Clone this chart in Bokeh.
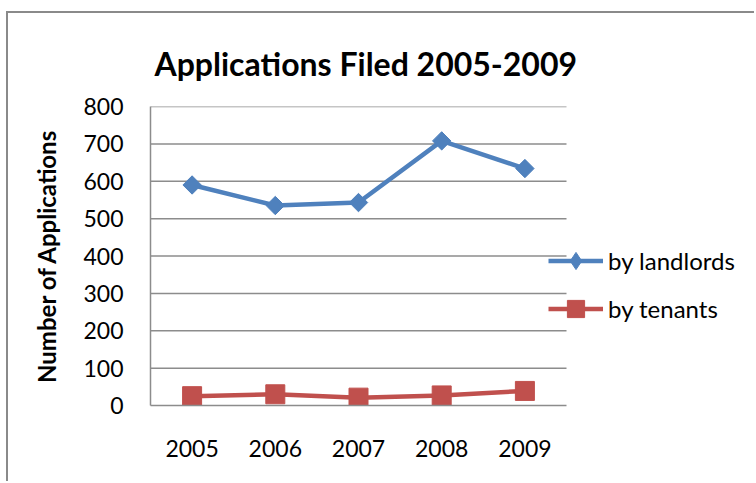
from bokeh.plotting import figure
from bokeh.models import (ColumnDataSource, Legend, LegendItem, FixedTicker, Title)
from bokeh.embed import file_html
from bokeh.resources import INLINE
import math

years = ["2005", "2006", "2007", "2008", "2009"]
landlords = [590, 535, 543, 708, 634]
tenants = [25, 30, 21, 27, 39]
y_ticks = [0, 100, 200, 300, 400, 500, 600, 700, 800]

FONT = "Lato"
BLUE = "#4F81BD"
RED = "#C0504D"
GRID = "#8c8c8c"

xs = list(range(len(years)))
src = ColumnDataSource(dict(x=xs, landlords=landlords, tenants=tenants))

# frame spans from the y axis to the right edge so the legend is not clipped
cat_px = 416 / len(years)
frame_px = 598
x_end = -0.5 + frame_px / cat_px

p = figure(width=748, height=470, x_range=(-0.5, x_end), y_range=(0, 800),
           output_backend="svg", toolbar_location=None,
           min_border_left=142, min_border_right=8,
           min_border_top=93, min_border_bottom=78)
p.margin = (11, 0, 0, 6)
p.styles = {"border-left": "2px solid #8a8a8a", "border-top": "2px solid #8a8a8a"}

p.title.text = "Applications Filed 2005-2009"
p.title.text_font = FONT
p.title.text_font_size = "32px"
p.title.text_font_style = "bold"
p.title.text_color = "black"
p.title.align = "left"
p.title.offset = 4
spacer = Title(text=" ", text_font_size="7px")
p.add_layout(spacer, "above")

p.outline_line_color = None
p.background_fill_color = "white"
p.border_fill_color = "white"
p.xgrid.grid_line_color = None
p.ygrid.grid_line_color = None

# horizontal gridlines limited to the category area
grid_src = ColumnDataSource(dict(y=y_ticks[1:]))
p.segment(x0=-0.5, x1=len(years) - 0.5, y0="y", y1="y", source=grid_src,
          line_color=GRID, line_width=1.5)

p.yaxis.ticker = FixedTicker(ticks=y_ticks)
p.xaxis.ticker = FixedTicker(ticks=xs)
p.xaxis.major_label_overrides = {i: y for i, y in zip(xs, years)}
p.xaxis.bounds = (-0.5, len(years) - 0.5)

for ax in (p.xaxis[0], p.yaxis[0]):
    ax.axis_line_color = GRID
    ax.axis_line_width = 1.5
    ax.major_tick_line_color = None
    ax.minor_tick_line_color = None
    ax.major_label_text_font = FONT
    ax.major_label_text_font_size = "23px"
    ax.major_label_text_color = "black"

p.yaxis.major_label_standoff = 21
p.xaxis.major_label_standoff = 28
p.yaxis.axis_label = "Number of Applications"
p.yaxis.axis_label_text_font = FONT
p.yaxis.axis_label_text_font_size = "24px"
p.yaxis.axis_label_text_font_style = "bold"
p.yaxis.axis_label_text_color = "black"
p.yaxis.axis_label_standoff = 19

l1 = p.line("x", "landlords", source=src, line_color=BLUE, line_width=4.5)
# diamond used for the legend key; hidden beneath the rotated squares in the plot
k1 = p.scatter("x", "landlords", source=src, marker="diamond", size=17,
               fill_color=BLUE, line_color=BLUE)
m1 = p.scatter("x", "landlords", source=src, marker="square", angle=math.pi / 4,
               size=13, fill_color=BLUE, line_color=BLUE)
l2 = p.line("x", "tenants", source=src, line_color=RED, line_width=4.5)
m2 = p.scatter("x", "tenants", source=src, marker="square", size=19,
               fill_color=RED, line_color=RED)

legend = Legend(items=[LegendItem(label="by landlords", renderers=[l1, k1]),
                       LegendItem(label="by tenants", renderers=[l2, m2])],
                location=(398, 75), orientation="vertical",
                glyph_width=55, glyph_height=43, label_height=43,
                label_standoff=5, spacing=5, padding=0, margin=0,
                border_line_color=None, background_fill_alpha=0,
                label_text_font=FONT, label_text_font_size="24px",
                label_text_color="black")
p.add_layout(legend, "center")

open("out.html", "w").write(file_html(p, INLINE))
